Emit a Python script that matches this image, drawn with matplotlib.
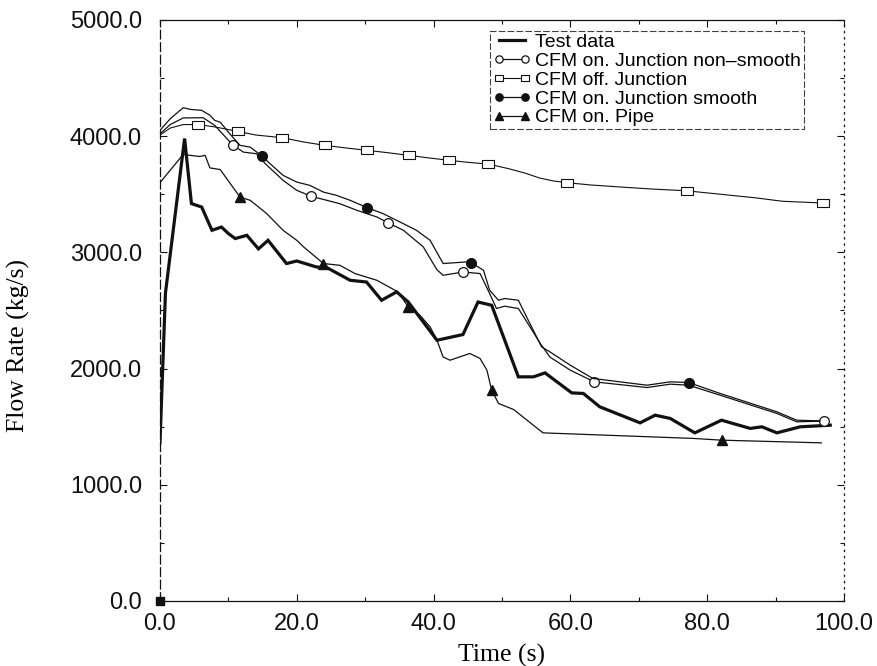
import numpy as np
import matplotlib
matplotlib.use("Agg")
import matplotlib.pyplot as plt
from matplotlib.path import Path
from matplotlib.ticker import MultipleLocator, FormatStrFormatter

# ---- data: time (s) and flow rate (kg/s) ----
test_t = [0.0, 0.8, 3.6, 4.6, 6.1, 7.6, 9.0, 10.0, 11.0, 12.7, 14.4, 15.8, 18.5,
          20.0, 22.9, 24.4, 27.8, 30.2, 32.4, 34.6, 36.3, 40.5, 44.3, 46.5, 48.5,
          52.4, 54.6, 56.3, 60.2, 61.9, 64.3, 70.2, 72.4, 74.6, 78.2, 82.1, 86.3,
          88.0, 90.2, 93.6, 98.0]
test_q = [1360, 2650, 3980, 3420, 3390, 3190, 3218, 3162, 3119, 3147, 3030, 3104, 2904,
          2926, 2874, 2869, 2760, 2745, 2588, 2660, 2573, 2244, 2293, 2573, 2545,
          1929, 1929, 1963, 1791, 1786, 1671, 1533, 1599, 1571, 1447, 1556, 1485,
          1499, 1447, 1499, 1513]

ns_t = [0.0, 1.5, 3.4, 6.3, 8.0, 10.7, 12.2, 14.1, 15.4, 18.0, 20.0, 22.1, 24.4,
        26.3, 28.8, 31.7, 33.4, 35.6, 38.5, 40.5, 41.4, 44.3, 46.8, 48.2, 49.2,
        50.4, 52.4, 54.1, 55.6, 57.0, 60.0, 63.5, 71.2, 74.6, 77.3, 81.9, 90.2,
        93.1, 97.1]
ns_q = [4020, 4100, 4157, 4159, 4093, 3921, 3863, 3849, 3763, 3620, 3534, 3483, 3448,
        3419, 3362, 3305, 3253, 3190, 3047, 2850, 2803, 2831, 2818, 2646, 2517,
        2537, 2517, 2359, 2216, 2100, 1986, 1886, 1837, 1866, 1857, 1771, 1614,
        1542, 1548]

off_t = [0.0, 1.5, 3.4, 5.6, 8.0, 11.4, 14.0, 17.9, 21.0, 24.1, 27.0, 30.3, 33.0,
         36.4, 39.0, 42.3, 45.0, 48.0, 51.0, 53.5, 55.5, 57.5, 59.5, 63.0, 68.0,
         72.0, 77.0, 82.0, 87.0, 91.0, 96.9]
off_q = [4010, 4070, 4100, 4100, 4080, 4041, 4010, 3987, 3950, 3921, 3900, 3878, 3860,
         3835, 3815, 3792, 3775, 3760, 3720, 3680, 3640, 3615, 3600, 3580, 3560,
         3545, 3530, 3500, 3470, 3440, 3425]

sm_t = [0.0, 1.5, 3.4, 4.5, 6.1, 7.3, 8.0, 8.8, 10.2, 11.7, 13.2, 14.9, 16.1, 18.0,
        20.0, 21.9, 23.9, 25.8, 27.8, 30.3, 32.6, 34.6, 37.5, 39.5, 41.4, 44.8,
        45.5, 47.3, 48.2, 49.5, 50.4, 52.4, 53.6, 55.8, 57.0, 60.0, 63.3, 71.2,
        74.6, 77.3, 81.9, 90.2, 93.1, 96.5]
sm_q = [4050, 4150, 4245, 4230, 4222, 4180, 4136, 4121, 4021, 3921, 3906, 3829, 3763,
        3663, 3605, 3577, 3519, 3491, 3448, 3385, 3334, 3276, 3190, 3104, 2904,
        2918, 2912, 2846, 2674, 2588, 2603, 2588, 2445, 2187, 2144, 2029, 1915,
        1857, 1886, 1880, 1786, 1628, 1556, 1550]

pipe_t = [0.0, 3.4, 5.8, 6.6, 7.3, 8.8, 11.7, 13.2, 15.6, 18.0, 20.0, 21.0, 23.9,
          26.3, 28.5, 31.7, 34.8, 36.3, 38.0, 39.5, 40.5, 41.4, 42.4, 45.3, 46.8,
          47.8, 48.5, 49.5, 51.7, 56.0, 78.0, 82.1, 96.7]
pipe_q = [3600, 3843, 3825, 3835, 3727, 3713, 3476, 3448, 3334, 3190, 3104, 3047, 2904,
          2889, 2818, 2760, 2660, 2531, 2459, 2359, 2244, 2100, 2072, 2130, 2087,
          1986, 1814, 1700, 1648, 1447, 1399, 1384, 1361]

start_t = [0.0]
start_q = [0.0]

x_ticks = [0, 20, 40, 60, 80, 100]
y_ticks = [0, 1000, 2000, 3000, 4000, 5000]

# ---- figure ----
fig = plt.figure(figsize=(8.78, 6.66), dpi=100)
ax = fig.add_axes([0.1822, 0.0976, 0.7790, 0.8724])

sans = "Liberation Sans"
serif = "Liberation Serif"
ink = "#111111"

# flat open rectangle used for the "off" series
rect_marker = Path([(-1.0, -0.7), (1.0, -0.7), (1.0, 0.7), (-1.0, 0.7), (-1.0, -0.7)],
                   [Path.MOVETO, Path.LINETO, Path.LINETO, Path.LINETO, Path.CLOSEPOLY])

ax.plot(test_t, test_q, color=ink, lw=2.3, solid_joinstyle="miter",
        label="Test data")
ax.plot(ns_t, ns_q, color=ink, lw=0.9, marker="o", ms=7, mfc="white",
        mec=ink, mew=0.9, markevery=[5, 11, 16, 21, 31, 38],
        label="CFM on. Junction non\u2013smooth")
ax.plot(off_t, off_q, color=ink, lw=0.8, marker=rect_marker, ms=8, mfc="white",
        mec=ink, mew=0.8, markevery=[3, 5, 7, 9, 11, 13, 15, 17, 22, 26, 30],
        label="CFM off. Junction")
ax.plot(sm_t, sm_q, color=ink, lw=0.9, marker="o", ms=7, mfc=ink, mec=ink,
        markevery=[11, 19, 26, 39], label="CFM on. Junction smooth")
ax.plot(pipe_t, pipe_q, color=ink, lw=0.9, marker="^", ms=7, mfc=ink, mec=ink,
        markevery=[6, 12, 17, 26, 31], label="CFM on. Pipe")
ax.plot(start_t, start_q, ls="none", marker="s", ms=6, color=ink, clip_on=False)

ax.set_xlim(0, 100)
ax.set_ylim(0, 5000)
ax.set_xticks(x_ticks)
ax.set_yticks(y_ticks)
ax.xaxis.set_minor_locator(MultipleLocator(10))
ax.yaxis.set_minor_locator(MultipleLocator(500))
ax.xaxis.set_major_formatter(FormatStrFormatter("%.1f"))
ax.yaxis.set_major_formatter(FormatStrFormatter("%.1f"))
ax.tick_params(which="both", direction="in", top=True, right=True,
               colors=ink, width=0.8)
ax.tick_params(which="major", length=5)
ax.tick_params(which="minor", length=3)
ax.tick_params(axis="y", which="major", pad=13)
ax.tick_params(axis="x", which="major", pad=9)
for lbl in ax.get_xticklabels() + ax.get_yticklabels():
    lbl.set_fontfamily(sans)
    lbl.set_fontsize(17)

ax.spines["left"].set_linestyle((0, (7, 3)))
ax.spines["right"].set_linestyle((0, (1, 4)))
for s in ax.spines.values():
    s.set_linewidth(0.9)
    s.set_color(ink)

ax.set_xlabel("Time (s)", fontfamily=serif, fontsize=18.5, labelpad=6)
ax.set_ylabel("Flow Rate (kg/s)", fontfamily=serif, fontsize=18.5)
ax.yaxis.set_label_coords(-0.19, 0.44)

leg = ax.legend(loc="upper left", bbox_to_anchor=(0.4825, 0.9816), numpoints=2,
                prop={"family": sans, "size": 14}, frameon=True,
                fancybox=False, borderpad=0.15, labelspacing=0.06,
                handlelength=1.94, handletextpad=0.25, borderaxespad=0.0,
                markerscale=0.75)
frame = leg.get_frame()
frame.set_edgecolor(ink)
frame.set_linewidth(0.8)
frame.set_linestyle((0, (6, 2)))

fig.savefig("out.png", dpi=100, facecolor="white")
